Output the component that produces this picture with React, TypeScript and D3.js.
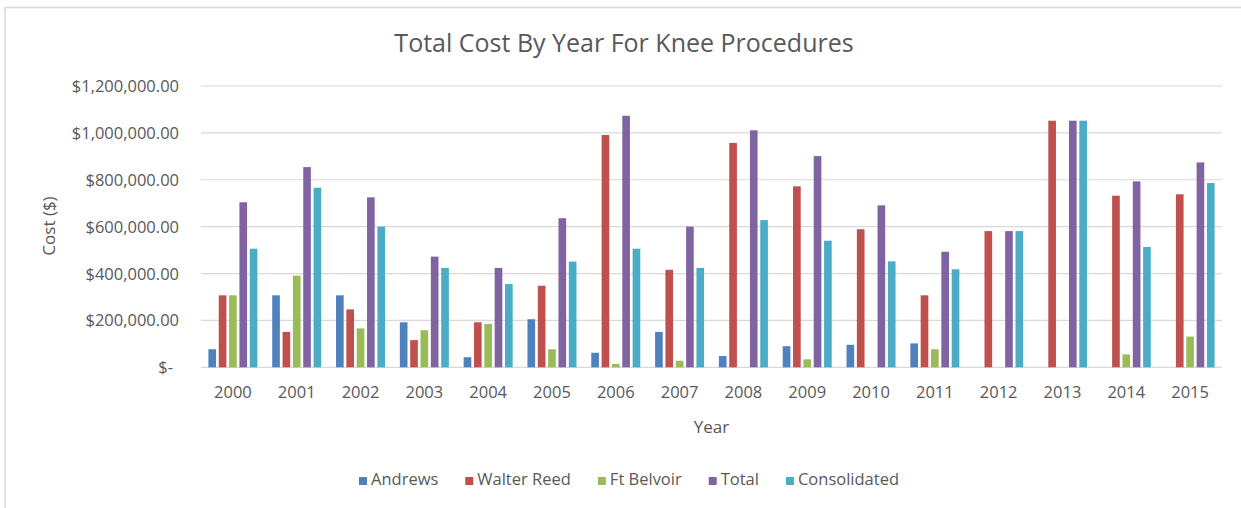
import React, { useEffect, useRef } from "react";
import * as d3 from "d3";

const years = ["2000","2001","2002","2003","2004","2005","2006","2007","2008","2009","2010","2011","2012","2013","2014","2015"];
const seriesNames = ["Andrews", "Walter Reed", "Ft Belvoir", "Total", "Consolidated"];
const andrews = [77000, 307000, 307000, 192000, 43000, 205000, 62000, 151000, 48000, 90000, 96000, 102000, 0, 0, 0, 0];
const walterReed = [307000, 151000, 247000, 116000, 192000, 348000, 991000, 416000, 957000, 772000, 589000, 307000, 581000, 1052000, 732000, 738000];
const ftBelvoir = [307000, 391000, 166000, 158000, 185000, 77000, 14000, 28000, 0, 34000, 0, 77000, 0, 0, 55000, 131000];
const total = [704000, 854000, 725000, 472000, 424000, 636000, 1073000, 600000, 1011000, 901000, 691000, 493000, 581000, 1052000, 793000, 874000];
const consolidated = [506000, 766000, 600000, 424000, 355000, 451000, 506000, 424000, 628000, 540000, 452000, 418000, 581000, 1052000, 513000, 786000];
const yTicks = [0, 200000, 400000, 600000, 800000, 1000000, 1200000];
const colors = ["#4F81BD", "#C0504D", "#9BBB59", "#8064A2", "#4BACC6"];

const W = 1241, H = 508;
const FONT = "'Open Sans', sans-serif";
const TXT = "#595959";

export default function App() {
  const ref = useRef<SVGSVGElement>(null);
  useEffect(() => {
    const svg = d3.select(ref.current);
    svg.selectAll("*").remove();
    const values = [andrews, walterReed, ftBelvoir, total, consolidated];
    const left = 201, right = 1222, top = 86, bottom = 367.3;
    const x0 = d3.scaleBand<string>().domain(years).range([left, right]).paddingInner(0).paddingOuter(0);
    const groupW = 49;
    const x1 = d3.scaleBand<string>().domain(seriesNames).range([0, groupW]).paddingInner(0.26).paddingOuter(0);
    const y = d3.scaleLinear().domain([0, 1200000]).range([bottom, top]);

    svg.append("rect").attr("width", W).attr("height", H).attr("fill", "#fff");
    // border lines
    svg.append("line").attr("x1", 5).attr("x2", W).attr("y1", 7.5).attr("y2", 7.5).attr("stroke", "#d9d9d9").attr("stroke-width", 1.5);
    svg.append("line").attr("x1", 5).attr("x2", 5).attr("y1", 7.5).attr("y2", H).attr("stroke", "#d9d9d9").attr("stroke-width", 1.5);

    // title
    svg.append("text").attr("x", 624).attr("y", 52).attr("text-anchor", "middle")
      .attr("font-family", FONT).attr("font-size", 25).attr("fill", TXT).text("Total Cost By Year For Knee Procedures");

    // grid
    const g = svg.append("g");
    yTicks.forEach(t => {
      g.append("line").attr("x1", left).attr("x2", right).attr("y1", y(t)).attr("y2", y(t))
        .attr("stroke", "#d9d9d9").attr("stroke-width", 1.2);
      const lbl = t === 0 ? "$-" : d3.format("$,.2f")(t);
      g.append("text").attr("x", t === 0 ? 173 : 179).attr("y", y(t) + 6).attr("text-anchor", "end")
        .attr("font-family", FONT).attr("font-size", 16.5).attr("fill", TXT).text(lbl);
    });

    // bars
    seriesNames.forEach((s, si) => {
      years.forEach((yr, i) => {
        const v = values[si][i];
        if (!v) return;
        const gx = (x0(yr) as number) + (x0.bandwidth() - groupW) / 2;
        svg.append("rect")
          .attr("x", gx + (x1(s) as number))
          .attr("y", y(v))
          .attr("width", x1.bandwidth())
          .attr("height", y(0) - y(v))
          .attr("fill", colors[si]);
      });
    });

    // x labels
    years.forEach(yr => {
      svg.append("text").attr("x", (x0(yr) as number) + x0.bandwidth() / 2).attr("y", 397.5)
        .attr("text-anchor", "middle").attr("font-family", FONT).attr("font-size", 16.5).attr("fill", TXT).text(yr);
    });

    svg.append("text").attr("x", (left + right) / 2).attr("y", 432.5).attr("text-anchor", "middle")
      .attr("font-family", FONT).attr("font-size", 17).attr("fill", TXT).text("Year");

    svg.append("text").attr("transform", `translate(55,226) rotate(-90)`).attr("text-anchor", "middle")
      .attr("font-family", FONT).attr("font-size", 17).attr("fill", TXT).text("Cost ($)");

    // legend
    const lg = svg.append("g");
    const items: { g: any; w: number }[] = [];
    seriesNames.forEach((s, si) => {
      const ig = lg.append("g");
      ig.append("rect").attr("x", 0).attr("y", -8).attr("width", 8).attr("height", 8).attr("fill", colors[si]);
      const t = ig.append("text").attr("x", 12).attr("y", 0).attr("font-family", FONT).attr("font-size", 16.5)
        .attr("fill", TXT).text(s);
      const tw = (t.node() as SVGTextElement).getComputedTextLength();
      items.push({ g: ig, w: 12 + tw });
    });
    const gap = 27;
    const totalW = items.reduce((a, b) => a + b.w, 0) + gap * (items.length - 1);
    let cx = 629 - totalW / 2;
    items.forEach(it => {
      it.g.attr("transform", `translate(${cx},485)`);
      cx += it.w + gap;
    });
  }, []);
  return (
    <div style={{ position: "absolute", left: 0, top: 0 }}>
      <svg ref={ref} width={W} height={H} style={{ display: "block" }} />
    </div>
  );
}
